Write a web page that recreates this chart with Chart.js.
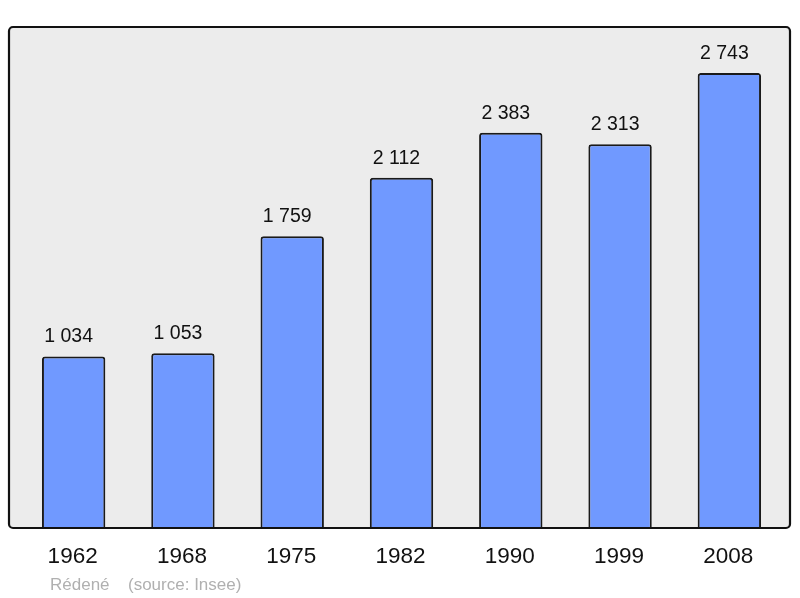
<!DOCTYPE html>
<html>
<head>
<meta charset="utf-8">
<script src="https://cdn.jsdelivr.net/npm/chart.js@4"></script>
<style>
  body { margin: 0; background: #fff; }
</style>
</head>
<body>
<canvas id="popChart" width="800" height="598"></canvas>
<script>
const years = ['1962', '1968', '1975', '1982', '1990', '1999', '2008'];
const population = [1034, 1053, 1759, 2112, 2383, 2313, 2743];
const commune = 'Rédené';
const source = '(source: Insee)';

// formats 2743 -> "2 743"
const fmt = v => String(v).replace(/\B(?=(\d{3})+(?!\d))/g, ' ');

const framePlugin = {
  id: 'frame',
  beforeDraw(chart) {
    const c = chart.ctx;
    c.save();
    c.fillStyle = '#ececec';
    c.beginPath();
    c.roundRect(9, 27, 781, 501, 4);
    c.fill();
    c.restore();
  },
  afterDatasetsDraw(chart) {
    const c = chart.ctx;
    c.save();
    c.strokeStyle = '#111';
    c.lineWidth = 2.2;
    c.beginPath();
    c.roundRect(9, 27, 781, 501, 4);
    c.stroke();
    c.restore();
  },
  afterDraw(chart) {
    const c = chart.ctx;
    const x = chart.scales.x;
    const y = chart.scales.y;
    c.save();
    c.fillStyle = '#111';
    c.textAlign = 'center';
    c.font = '19.5px "Liberation Sans", Arial, sans-serif';
    c.textBaseline = 'alphabetic';
    population.forEach((v, i) => {
      c.fillText(fmt(v), x.getPixelForValue(i) - 5, y.getPixelForValue(v) - 14);
    });
    c.font = '22.5px "Liberation Sans", Arial, sans-serif';
    c.textBaseline = 'middle';
    years.forEach((yr, i) => {
      c.fillText(yr, x.getPixelForValue(i) - 1, 557);
    });
    c.fillStyle = '#b0b0b0';
    c.font = '17px "Liberation Sans", Arial, sans-serif';
    c.textAlign = 'left';
    c.fillText(commune, 50, 585);
    c.fillText(source, 128, 585);
    c.restore();
  }
};

new Chart(document.getElementById('popChart'), {
  type: 'bar',
  data: {
    labels: years,
    datasets: [{
      data: population,
      backgroundColor: '#7099ff',
      borderColor: '#1a1a1a',
      borderWidth: 2,
      borderSkipped: 'bottom',
      borderRadius: { topLeft: 3, topRight: 3 },
      barPercentage: 0.58,
      categoryPercentage: 1
    }]
  },
  options: {
    responsive: false,
    animation: false,
    layout: { padding: { left: 19, right: 16, top: 27, bottom: 70 } },
    scales: {
      x: { display: false },
      y: { display: false, min: 0, max: 3020 }
    },
    plugins: {
      legend: { display: false },
      tooltip: { enabled: false }
    }
  },
  plugins: [framePlugin]
});
</script>
</body>
</html>
